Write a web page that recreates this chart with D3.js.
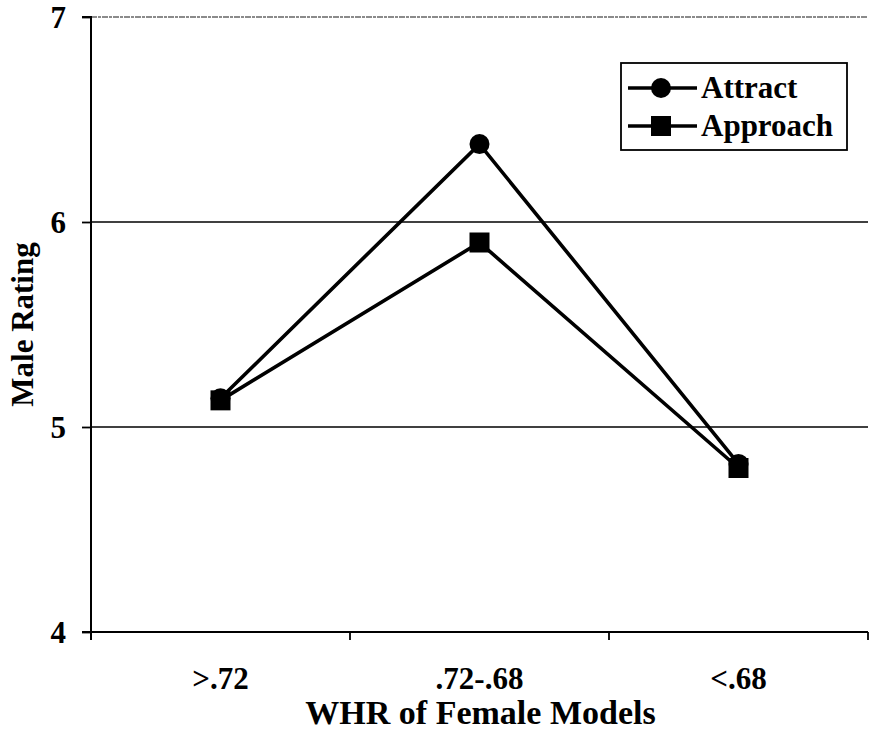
<!DOCTYPE html>
<html><head><meta charset="utf-8">
<script src="https://cdn.jsdelivr.net/npm/d3@7/dist/d3.min.js"></script>
<style>body{margin:0;background:#fff}svg{display:block}</style>
</head><body><svg id="c" width="870" height="745"></svg>
<script>
const categories = [">.72", ".72-.68", "<.68"];
const attract = [5.14, 6.38, 4.82];
const approach = [5.13, 5.90, 4.80];
const yTicks = [4, 5, 6, 7];
const seriesNames = ["Attract", "Approach"];

const FF = '"Liberation Serif"';
const txt = (sel, size) => sel.style("font-family", FF).style("font-weight", "bold")
  .style("font-size", size + "px").style("fill", "#000");

const svg = d3.select("#c");
const L = 91, R = 868, T = 17, B = 632;
const x = d3.scaleBand().domain(categories).range([L, R]);
const y = d3.scaleLinear().domain([4, 7]).range([B, T]);

// gridlines
svg.append("g").selectAll("line").data(yTicks.filter(d => d > 4)).join("line")
  .attr("x1", L).attr("x2", R).attr("y1", d => y(d)).attr("y2", d => y(d))
  .attr("stroke", d => d === 7 ? "#666" : "#000")
  .attr("stroke-width", d => d === 7 ? 1.3 : 1.5)
  .attr("stroke-dasharray", d => d === 7 ? "6,1,3,1" : null);

// y axis
const yAxis = d3.axisLeft(y).tickValues(yTicks).tickSize(9).tickFormat(d3.format("d"));
const gy = svg.append("g").attr("transform", `translate(${L},0)`).call(yAxis);
gy.attr("font-family", null).attr("font-size", null);
gy.select(".domain").attr("stroke-width", 2).attr("d", `M-9,${T}H0V${B + 8}`);
gy.selectAll(".tick line").attr("stroke-width", 1.8);
txt(gy.selectAll(".tick text"), 31).attr("x", -25).attr("dy", "0.33em");

// x axis
const gx = svg.append("g").attr("transform", `translate(0,${B})`);
gx.append("line").attr("x1", L - 9).attr("x2", R).attr("stroke", "#000").attr("stroke-width", 2);
const bounds = categories.map(c => x(c)).concat([R]).slice(1);
gx.selectAll(".tk").data(bounds).join("line").attr("class", "tk")
  .attr("x1", d => d).attr("x2", d => d).attr("y1", 0).attr("y2", 8)
  .attr("stroke", "#000").attr("stroke-width", 1.8);
txt(gx.selectAll("text").data(categories).join("text")
  .attr("x", d => x(d) + x.bandwidth() / 2).attr("y", 57)
  .attr("text-anchor", "middle"), 31).text(d => d);

// titles
txt(svg.append("text").attr("x", (L + R) / 2 + 1).attr("y", 724).attr("text-anchor", "middle"), 34)
  .text("WHR of Female Models");
txt(svg.append("text").attr("transform", `translate(33,${(T + B) / 2}) rotate(-90)`)
  .attr("text-anchor", "middle"), 31).text("Male Rating");

// lines
const cx = c => x(c) + x.bandwidth() / 2;
const line = d3.line().x((d, i) => cx(categories[i])).y(d => y(d));
[attract, approach].forEach(s => {
  svg.append("path").datum(s).attr("d", line).attr("fill", "none")
    .attr("stroke", "#000").attr("stroke-width", 3.6).attr("stroke-linejoin", "miter");
});
svg.append("g").selectAll("circle").data(attract).join("circle")
  .attr("cx", (d, i) => cx(categories[i])).attr("cy", d => y(d)).attr("r", 10).attr("fill", "#000");
svg.append("g").selectAll("rect").data(approach).join("rect")
  .attr("x", (d, i) => cx(categories[i]) - 10).attr("y", d => y(d) - 10)
  .attr("width", 20).attr("height", 20).attr("fill", "#000");

// legend
const lg = svg.append("g");
lg.append("rect").attr("x", 621).attr("y", 63).attr("width", 226).attr("height", 87)
  .attr("fill", "#fff").attr("stroke", "#000").attr("stroke-width", 1.8);
seriesNames.forEach((n, i) => {
  const yy = 88 + i * 38;
  lg.append("line").attr("x1", 628).attr("x2", 697).attr("y1", yy).attr("y2", yy)
    .attr("stroke", "#000").attr("stroke-width", 3.6);
  if (i === 0) lg.append("circle").attr("cx", 661).attr("cy", yy).attr("r", 10).attr("fill", "#000");
  else lg.append("rect").attr("x", 651).attr("y", yy - 10).attr("width", 20).attr("height", 20).attr("fill", "#000");
  txt(lg.append("text").attr("x", 701).attr("y", yy + 10), 31).text(n);
});
</script></body></html>
